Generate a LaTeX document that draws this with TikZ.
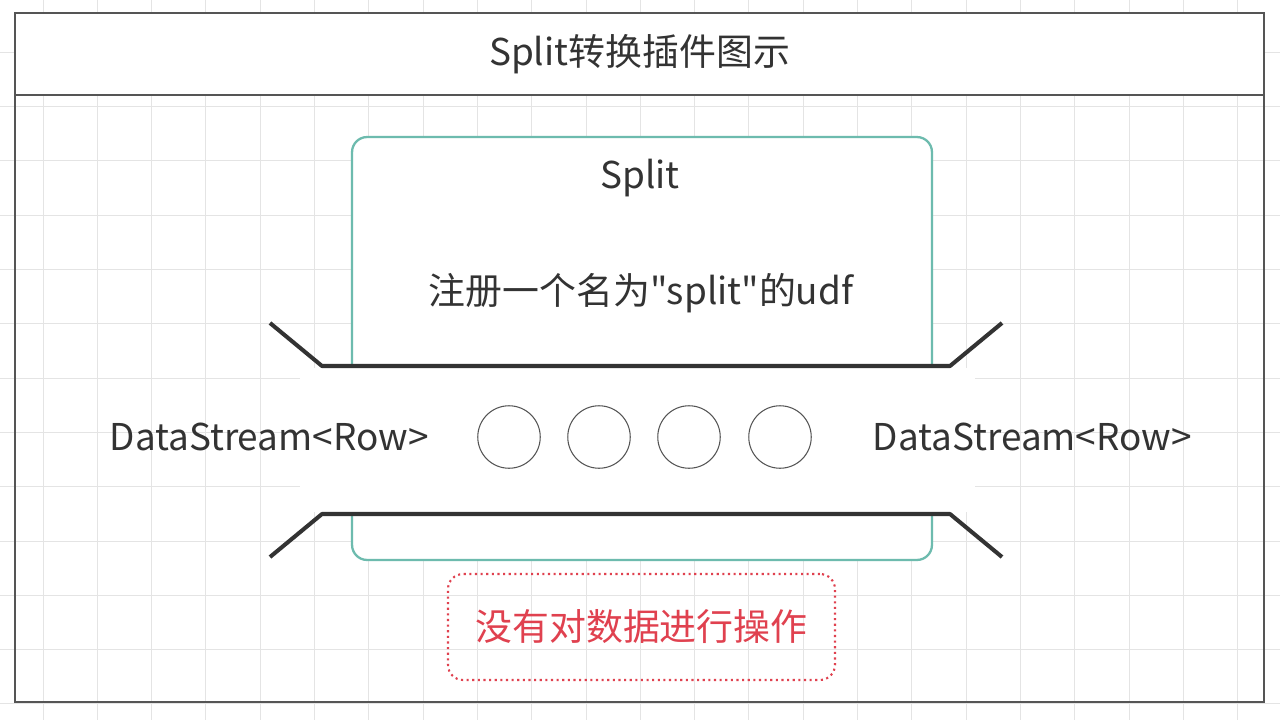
\documentclass[tikz,border=0pt]{standalone}
\usepackage{fontspec}
\newfontfamily\cjk{Noto Sans CJK SC}
\usepackage{tikz}
\usetikzlibrary{positioning, calc}
\usepackage{xcolor}
\definecolor{gridcolor}{HTML}{E4E4E4}
\definecolor{framecolor}{HTML}{555555}
\definecolor{textcolor}{HTML}{333333}
\definecolor{tealcolor}{HTML}{6DBBAE}
\definecolor{notecolor}{HTML}{E0414F}

\begin{document}
\begin{tikzpicture}[
  x=0.02cm, y=-0.02cm,
  every node/.style={font=\cjk\fontsize{21}{25}\selectfont, text=textcolor},
  frame/.style={draw=framecolor, line width=1.1pt, fill=white},
  plugin/.style={draw=tealcolor, line width=1.3pt, rounded corners=0.3cm, fill=white,
                 minimum width=11.6cm, minimum height=8.46cm},
  pipe/.style={draw=textcolor, line width=2.3pt, line join=round},
  rec/.style={circle, draw=framecolor, line width=0.6pt, minimum size=1.25cm, inner sep=0pt},
  note/.style={draw=notecolor, dotted, line width=1.2pt, rounded corners=0.3cm,
               minimum width=7.74cm, minimum height=2.12cm, text=notecolor}
]
  \useasboundingbox (0,0) rectangle (1280,720);
  \fill[white] (0,0) rectangle (1280,720);
  % grid
  \foreach \i in {0,...,23} \draw[gridcolor, line width=0.5pt] (43+54.3*\i,0) -- (43+54.3*\i,720);
  \foreach \j in {0,...,13} \draw[gridcolor, line width=0.5pt] (0,-2+54.3*\j) -- (1280,-2+54.3*\j);

  \draw[framecolor, line width=1.1pt] (15,95) rectangle (1264,702);
  \node[frame, minimum width=24.98cm, minimum height=1.64cm] (title) at (639.5,54) {Split转换插件图示};

  \node[plugin] (split) at (642,348.5) {};
  \node (splitname) at (640,178) {Split};
  \node (udf) at (641,293) {注册一个名为"split"的udf};

  % pipe
  \fill[white] (300,368) rectangle (975,512);
  \draw[pipe] (270,323) -- (322,366) -- (950,366) -- (1002,323);
  \draw[pipe] (270,557) -- (322,514) -- (950,514) -- (1002,557);

  \foreach \x [count=\n] in {509,599,689,780}
    \node[rec] (row\n) at (\x,437) {};
  \node[left=0.85cm of row1] (inL) {DataStream<Row>};
  \node[right=1.1cm of row4] (outR) {DataStream<Row>};

  \node[note] (nop) at (641.5,627) {没有对数据进行操作};
\end{tikzpicture}
\end{document}
